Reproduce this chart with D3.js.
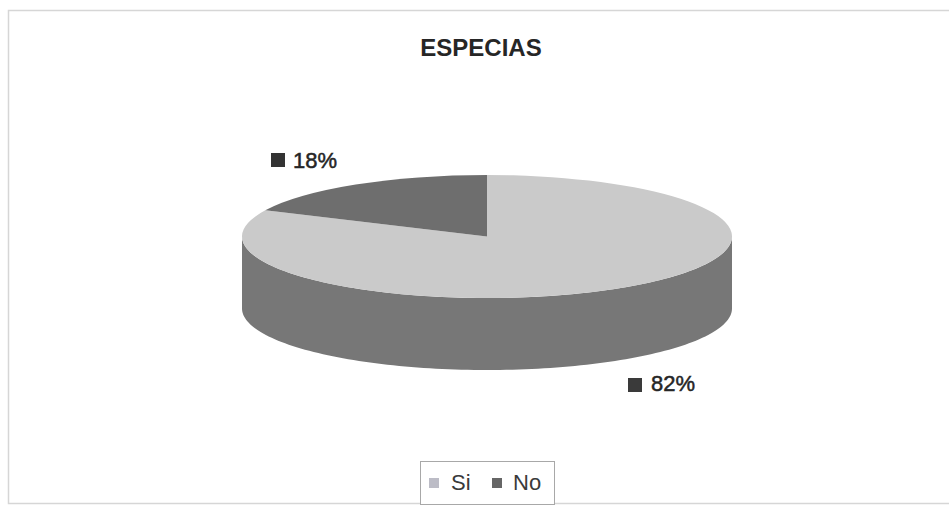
<!DOCTYPE html>
<html><head><meta charset="utf-8">
<script src="https://cdn.jsdelivr.net/npm/d3@7"></script>
<style>body{margin:0;background:#fff}</style>
</head><body><svg id="c" width="949" height="507"></svg>
<script>
const categories = ["Si", "No"];
const values = [82, 18];
const valueLabels = ["82%", "18%"];
const chartTitle = "ESPECIAS";

const topColors = ["#cacaca", "#6e6e6e"];
const sideColors = ["#777777", "#5c5c5c"];
const legendColors = ["#bcbcc6", "#666666"];
const labelKeyColors = ["#3a3a3a", "#333333"];

const svg = d3.select("#c");
const font = "'Liberation Sans', Arial, sans-serif";

// outer frame
svg.append("rect").attr("x", 8.5).attr("y", 10.5).attr("width", 950).attr("height", 493)
  .attr("fill", "none").attr("stroke", "#d6d6d6").attr("stroke-width", 1.5);

// title
svg.append("text").attr("x", 481).attr("y", 56).attr("text-anchor", "middle")
  .attr("font-family", font).attr("font-weight", "bold").attr("font-size", 24)
  .attr("fill", "#262626").text(chartTitle);

// 3D pie geometry
const cx = 487, cy = 236.5, rx = 245, ry = 61.5, depth = 72;
const pie = d3.pie().sort(null).value(d => d);
const arcs = pie(values);

const px = a => cx + rx * Math.sin(a);
const py = a => cy - ry * Math.cos(a);
const line = d3.line();

const sideG = svg.append("g");
arcs.forEach((a, i) => {
  const s = Math.max(a.startAngle, Math.PI / 2);
  const e = Math.min(a.endAngle, 3 * Math.PI / 2);
  if (e <= s) return;
  const angs = d3.range(0, 121).map(k => s + (e - s) * k / 120);
  const pts = angs.map(t => [px(t), py(t)])
    .concat(angs.slice().reverse().map(t => [px(t), py(t) + depth]));
  sideG.append("path").attr("d", line(pts) + "Z").attr("fill", sideColors[i]);
});

const arc = d3.arc().innerRadius(0).outerRadius(rx);
const topG = svg.append("g").attr("transform", `translate(${cx},${cy}) scale(1,${ry / rx})`);
topG.selectAll("path").data(arcs).join("path")
  .attr("d", arc).attr("fill", (d, i) => topColors[i]);

// data labels
const labelPos = [[628, 378, 651, 391], [271, 153, 293, 168]];
arcs.forEach((a, i) => {
  const [kx, ky, tx, ty] = labelPos[i];
  svg.append("rect").attr("x", kx).attr("y", ky).attr("width", 14).attr("height", 14)
    .attr("fill", labelKeyColors[i]);
  svg.append("text").attr("x", tx).attr("y", ty).attr("font-family", font)
    .attr("font-size", 22).attr("fill", "#262626")
    .attr("stroke", "#262626").attr("stroke-width", 0.5).text(valueLabels[i]);
});

// legend
svg.append("rect").attr("x", 420.5).attr("y", 461.5).attr("width", 134).attr("height", 43)
  .attr("fill", "#fff").attr("stroke", "#a8a8a8").attr("stroke-width", 1);
const legX = [[429, 451], [492, 513]];
categories.forEach((c, i) => {
  svg.append("rect").attr("x", legX[i][0]).attr("y", 478).attr("width", 10).attr("height", 10)
    .attr("fill", legendColors[i]);
  svg.append("text").attr("x", legX[i][1]).attr("y", 490).attr("font-family", font)
    .attr("font-size", 22).attr("fill", "#3a3a3a").text(c);
});
</script></body></html>
